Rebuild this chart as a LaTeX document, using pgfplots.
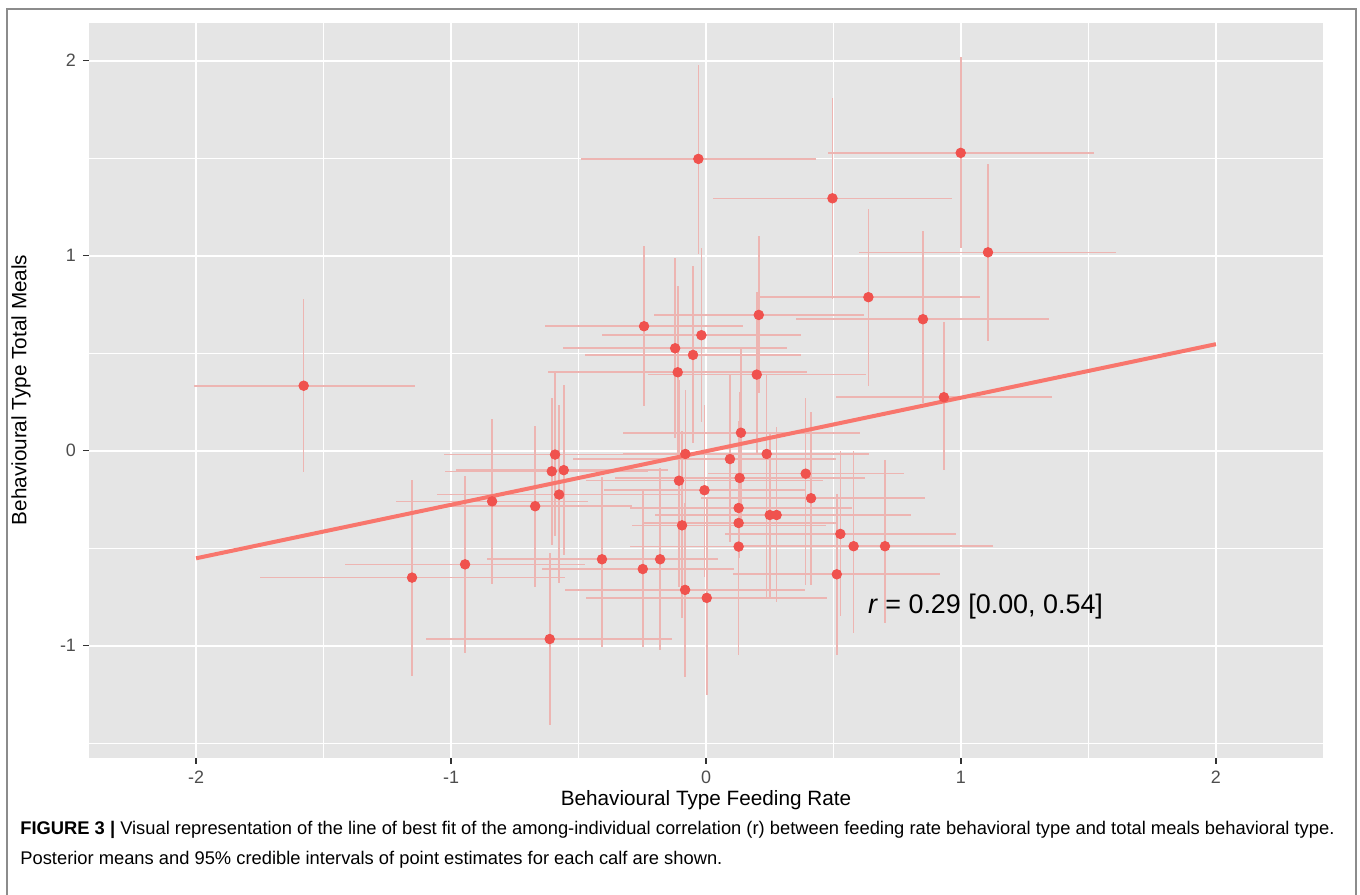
\documentclass[border=0pt]{standalone}
\usepackage{fontspec}
\setmainfont{Liberation Sans}
\usepackage{pgfplots}
\usepackage{pgfplotstable}
\pgfplotsset{compat=1.18}
\definecolor{ggbg}{HTML}{E5E5E5}
\definecolor{ggred}{HTML}{F8766D}
\definecolor{ptred}{HTML}{F0524E}
\definecolor{barpink}{HTML}{EDB5B2}
\definecolor{tickgray}{HTML}{4D4D4D}
\definecolor{framegray}{HTML}{8C8C8C}

% posterior means and 95% credible intervals, one row per calf
\pgfplotstableread{
x      y      xlo    xhi    ylo     yhi
-0.030  1.496 -0.490  0.430  1.010  1.980
 0.496  1.294  0.026  0.966  0.780  1.810
 0.999  1.527  0.478  1.523  1.040  2.020
 1.106  1.017  0.600  1.610  0.560  1.470
 0.637  0.787  0.198  1.073  0.330  1.240
 0.851  0.674  0.354  1.344  0.245  1.127
 0.207  0.696 -0.205  0.619  0.296  1.100
-0.243  0.638 -0.631  0.144  0.230  1.050
-0.018  0.592 -0.409  0.371  0.149  1.040
-0.121  0.525 -0.561  0.316  0.064  0.990
-0.051  0.491 -0.476  0.374  0.038  0.949
-0.111  0.402 -0.618  0.395 -0.050  0.846
 0.199  0.390 -0.229  0.629 -0.020  0.815
 0.933  0.274  0.511  1.356 -0.100  0.660
-1.578  0.333 -2.010 -1.143 -0.108  0.778
-1.153 -0.651 -1.750 -0.554 -1.154 -0.150
-0.945 -0.583 -1.416 -0.473 -1.040 -0.131
-0.839 -0.260 -1.216 -0.463 -0.684  0.160
-0.670 -0.285 -1.050 -0.290 -0.697  0.127
-0.592 -0.020 -1.027 -0.155 -0.440  0.397
-0.605 -0.106 -1.025 -0.227 -0.484  0.269
-0.558 -0.100 -0.980 -0.150 -0.535  0.337
-0.576 -0.225 -1.055 -0.100 -0.680  0.234
-0.081 -0.017 -0.325  0.511 -0.430  0.310
 0.137  0.092 -0.325  0.603 -0.350  0.525
 0.094 -0.043 -0.520  0.511 -0.470  0.388
 0.238 -0.017 -0.310  0.638 -0.755  0.388
 0.132 -0.140 -0.358  0.622 -0.550  0.300
-0.106 -0.154 -0.469  0.459 -0.700  0.360
-0.006 -0.203 -0.400  0.390 -0.650  0.234
 0.391 -0.118  0.008  0.776 -0.690  0.269
 0.412 -0.244 -0.020  0.858 -0.690  0.200
 0.128 -0.294 -0.300  0.573 -0.700  0.150
 0.250 -0.330 -0.200  0.805 -0.757  0.090
 0.277 -0.330 -0.150  0.720 -0.774  0.120
-0.094 -0.383 -0.290  0.470 -0.860  0.100
 0.128 -0.371 -0.250  0.511 -0.850  0.100
 0.527 -0.427  0.073  0.982 -0.850  0.000
 0.128 -0.492 -0.300  0.820 -1.050  0.050
 0.579 -0.490  0.130  1.010 -0.937  0.000
 0.702 -0.490  0.280  1.125 -0.885 -0.050
-0.408 -0.557 -0.860  0.000 -1.005 -0.133
-0.180 -0.557 -0.640  0.047 -1.020 -0.090
-0.248 -0.607 -0.645  0.110 -1.005 -0.200
 0.513 -0.634  0.106  0.919 -1.048 -0.220
-0.082 -0.714 -0.554  0.390 -1.160 -0.270
 0.003 -0.755 -0.472  0.476 -1.253 -0.250
-0.613 -0.966 -1.097 -0.132 -1.407 -0.526
}\calfdata

\begin{document}
\begin{tikzpicture}
\useasboundingbox (0,0) rectangle (680bp,447.5bp);
\draw[framegray, line width=0.6bp] (3.5bp,-5bp) rectangle (678bp,443bp);

\begin{axis}[at={(44.5bp,68.5bp)}, anchor=south west,
  width=617bp, height=367.5bp, scale only axis,
  xmin=-2.42, xmax=2.42, ymin=-1.576, ymax=2.193,
  xtick={-2,-1,0,1,2}, xticklabels={-2,-1,0,1,2},
  ytick={-1,0,1,2}, yticklabels={-1,0,1,2},
  minor xtick={-1.5,-0.5,0.5,1.5}, minor ytick={-1.5,-0.5,0.5,1.5},
  grid=both,
  major grid style={white, line width=1.1bp},
  minor grid style={white, line width=0.55bp},
  axis background/.style={fill=ggbg},
  axis line style={draw=none},
  tick pos=left, tick align=outside,
  major tick length=3bp, minor tick length=0pt,
  tick style={draw=black!80, line width=0.6bp},
  ticklabel style={font=\fontsize{9}{10}\selectfont, text=tickgray},
]
  % credible intervals
  \addplot[barpink, only marks, mark=none,
    error bars/.cd, x dir=both, y dir=both, x explicit, y explicit,
    error mark=none,
    error bar style={draw=barpink, line width=0.8bp}]
    table[x=x, y=y,
      x error plus expr=\thisrow{xhi}-\thisrow{x},
      x error minus expr=\thisrow{x}-\thisrow{xlo},
      y error plus expr=\thisrow{yhi}-\thisrow{y},
      y error minus expr=\thisrow{y}-\thisrow{ylo}] {\calfdata};
  % line of best fit
  \addplot[ggred, line width=2bp] coordinates {(-2,-0.552) (2,0.546)};
  % posterior means
  \addplot[ptred, only marks, mark=*, mark size=2.4bp,
    mark options={draw=ptred, fill=ptred}] table[x=x, y=y] {\calfdata};
  \node[anchor=west, inner sep=0pt, font=\fontsize{13.5}{15}\selectfont]
    at (axis cs:0.634,-0.80) {\textit{r} = 0.29 [0.00, 0.54]};
\end{axis}

\node[font=\fontsize{10.4}{12}\selectfont] at (353bp,47.5bp) {Behavioural Type Feeding Rate};
\node[rotate=90, font=\fontsize{10.4}{12}\selectfont] at (10.5bp,252.5bp) {Behavioural Type Total Meals};

\node[anchor=base west, inner sep=0pt, font=\fontsize{9.2}{11}\selectfont] at (10bp,30.5bp)
  {\textbf{FIGURE 3 |} Visual representation of the line of best fit of the among-individual correlation (r) between feeding rate behavioral type and total meals behavioral type.};
\node[anchor=base west, inner sep=0pt, font=\fontsize{9.2}{11}\selectfont] at (10bp,15.5bp)
  {Posterior means and 95\% credible intervals of point estimates for each calf are shown.};
\end{tikzpicture}
\end{document}
